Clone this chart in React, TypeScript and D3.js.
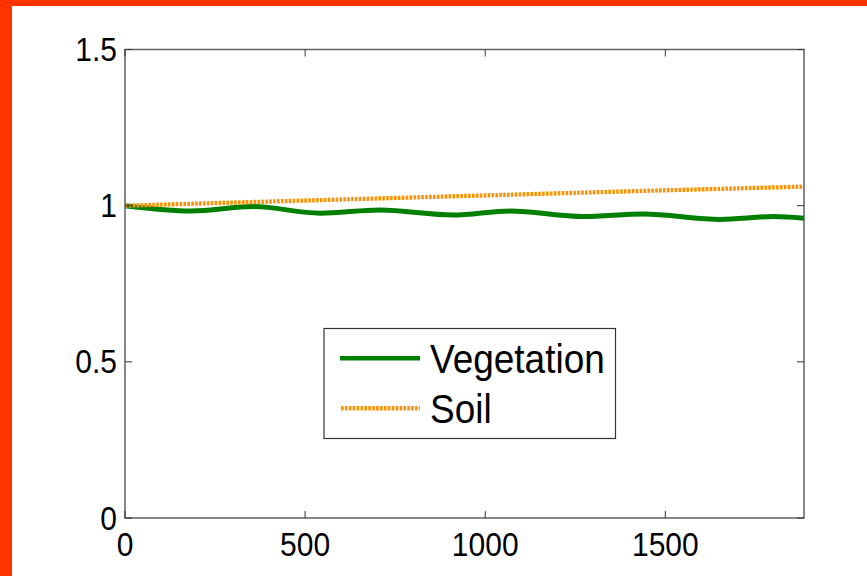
import React from "react";
import * as d3 from "d3";

// Time axis (days) and the relative stock of each pool
const vegDays = [0, 185, 356, 542, 708, 911, 1069, 1272, 1439, 1653, 1800, 1885];
const vegValues = [1.0, 0.983, 0.997, 0.976, 0.986, 0.97, 0.983, 0.965, 0.973, 0.956, 0.965, 0.96];
const soilDays = [0, 365, 730, 1095, 1460, 1885];
const soilValues = [1.0, 1.012, 1.024, 1.036, 1.048, 1.061];

const xTicks = [0, 500, 1000, 1500];
const yTicks = [0, 0.5, 1, 1.5];
const yTickLabels = ["0", "0.5", "1", "1.5"];
const seriesNames = ["Vegetation", "Soil"];

const W = 867;
const H = 576;
const left = 125;
const right = 804;
const top = 49.5;
const bottom = 518;

const GREEN = "#007f00";
const ORANGE = "#ff9000";
const FONT = "'Liberation Sans', Arial, Helvetica, sans-serif";

export default function App() {
  const x = d3.scaleLinear().domain([0, 1885]).range([left, right]);
  const y = d3.scaleLinear().domain([0, 1.5]).range([bottom, top]);

  const vegLine = d3
    .line<[number, number]>()
    .x((d) => x(d[0]))
    .y((d) => y(d[1]))
    .curve(d3.curveMonotoneX);
  const soilLine = d3
    .line<[number, number]>()
    .x((d) => x(d[0]))
    .y((d) => y(d[1]));

  const vegPts = vegDays.map((d, i) => [d, vegValues[i]] as [number, number]);
  const soilPts = soilDays.map((d, i) => [d, soilValues[i]] as [number, number]);

  const tickLen = 7;
  const axisColor = "#606060";

  return (
    <svg
      width={W}
      height={H}
      style={{ position: "fixed", left: 0, top: 0, background: "#fff" }}
    >
      <rect x={0} y={0} width={W} height={H} fill="#fff" />
      <rect x={0} y={0} width={12} height={H} fill="#ff3300" />
      <rect x={0} y={0} width={W} height={6} fill="#ff3300" />

      {/* data lines */}
      <path d={vegLine(vegPts) || ""} fill="none" stroke={GREEN} strokeWidth={5} strokeLinejoin="round" />
      <path
        d={soilLine(soilPts) || ""}
        fill="none"
        stroke={ORANGE}
        strokeWidth={4.3}
        strokeDasharray="2.6 1.3"
      />

      {/* axes box */}
      <rect
        x={left}
        y={top}
        width={right - left}
        height={bottom - top}
        fill="none"
        stroke={axisColor}
        strokeWidth={1.5}
      />

      {xTicks.map((t) => (
        <g key={"x" + t}>
          <line x1={x(t)} x2={x(t)} y1={bottom} y2={bottom - tickLen} stroke="#333" strokeWidth={1} />
          <line x1={x(t)} x2={x(t)} y1={top} y2={top + tickLen} stroke="#333" strokeWidth={1} />
          <g transform={`translate(${x(t)},${bottom + 38}) scale(1,1.1)`}>
            <text textAnchor="middle" fontFamily={FONT} fontSize={30} fill="#000">
              {t}
            </text>
          </g>
        </g>
      ))}

      {yTicks.map((t, i) => (
        <g key={"y" + t}>
          <line x1={left} x2={left + tickLen} y1={y(t)} y2={y(t)} stroke="#333" strokeWidth={1} />
          <line x1={right} x2={right - tickLen} y1={y(t)} y2={y(t)} stroke="#333" strokeWidth={1} />
          <g transform={`translate(117,${y(t) + 11.6}) scale(1,1.1)`}>
            <text textAnchor="end" fontFamily={FONT} fontSize={30} fill="#000">
              {yTickLabels[i]}
            </text>
          </g>
        </g>
      ))}

      {/* legend */}
      <g>
        <rect x={324} y={328.5} width={291.5} height={110} fill="#fff" stroke="#333" strokeWidth={1.2} />
        <line x1={340} x2={420} y1={358.3} y2={358.3} stroke={GREEN} strokeWidth={4.5} />
        <line x1={341} x2={420} y1={408.3} y2={408.3} stroke={ORANGE} strokeWidth={4.5} strokeDasharray="2.6 1.3" />
        <g transform="translate(430,373.3) scale(1,1.12)">
          <text fontFamily={FONT} fontSize={37} fill="#000">
            {seriesNames[0]}
          </text>
        </g>
        <g transform="translate(430,423) scale(1,1.12)">
          <text fontFamily={FONT} fontSize={37} fill="#000">
            {seriesNames[1]}
          </text>
        </g>
      </g>
    </svg>
  );
}
